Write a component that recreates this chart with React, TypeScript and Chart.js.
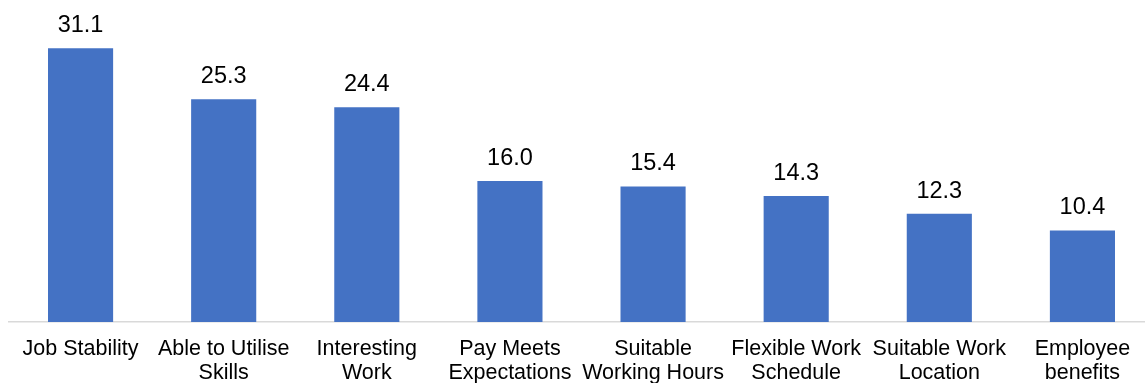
import React, { useEffect, useRef } from "react";
import { Chart, registerables } from "chart.js";

Chart.register(...registerables);

const categories: string[][] = [
  ["Job Stability"],
  ["Able to Utilise", "Skills"],
  ["Interesting", "Work"],
  ["Pay Meets", "Expectations"],
  ["Suitable", "Working Hours"],
  ["Flexible Work", "Schedule"],
  ["Suitable Work", "Location"],
  ["Employee", "benefits"],
];
const values: number[] = [31.1, 25.3, 24.4, 16.0, 15.4, 14.3, 12.3, 10.4];

const valueLabels = {
  id: "valueLabels",
  afterDatasetsDraw(chart: any) {
    const ctx = chart.ctx;
    const meta = chart.getDatasetMeta(0);
    ctx.save();
    ctx.font = "23.5px 'Liberation Sans', Arial, sans-serif";
    ctx.fillStyle = "#000000";
    ctx.textAlign = "center";
    ctx.textBaseline = "alphabetic";
    meta.data.forEach((bar: any, i: number) => {
      ctx.fillText(values[i].toFixed(1), bar.x, bar.y - 16);
    });
    ctx.restore();
  },
};

export default function App() {
  const ref = useRef<HTMLCanvasElement>(null);
  useEffect(() => {
    if (!ref.current) return;
    const chart = new Chart(ref.current, {
      type: "bar",
      data: {
        labels: categories,
        datasets: [
          {
            data: values,
            backgroundColor: "#4472C4",
            barPercentage: 0.455,
            categoryPercentage: 1,
          },
        ],
      },
      options: {
        animation: false,
        responsive: false,
        maintainAspectRatio: false,
        layout: { padding: { left: 9, right: 0, top: 5, bottom: 0 } },
        plugins: { legend: { display: false }, tooltip: { enabled: false } },
        scales: {
          y: { display: false, min: 0, max: 36 },
          x: {
            grid: { display: false, drawTicks: false },
            border: { display: true, color: "#d9d9d9", width: 1.5 },
            ticks: {
              color: "#000000",
              font: { family: "'Liberation Sans', Arial, sans-serif", size: 21.5, lineHeight: 1.12 },
              padding: 15,
              maxRotation: 0,
              autoSkip: false,
            },
            afterFit: (scale: any) => {
              scale.height = 61;
            },
          },
        },
      },
      plugins: [valueLabels],
    });
    return () => chart.destroy();
  }, []);
  return (
    <div style={{ position: "absolute", left: 0, top: 0, width: 1154, height: 383 }}>
      <canvas ref={ref} width={1154} height={383} style={{ display: "block" }} />
    </div>
  );
}
